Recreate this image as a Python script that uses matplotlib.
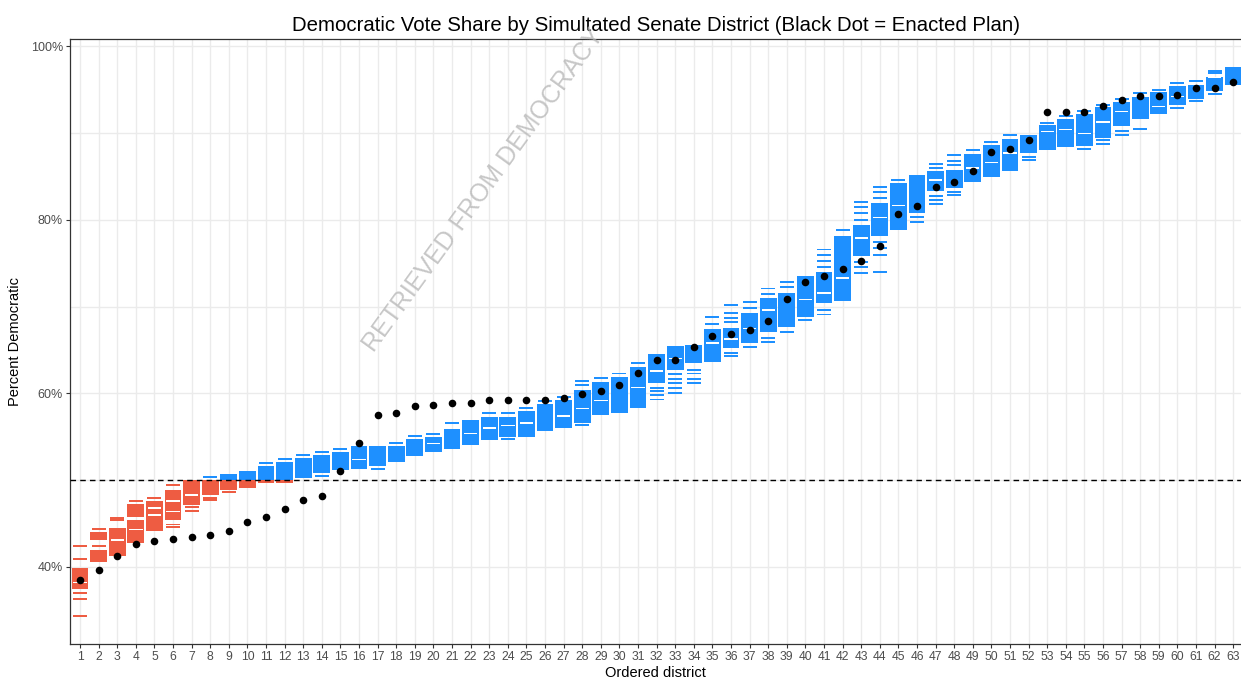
import matplotlib
matplotlib.use("Agg")
import matplotlib.pyplot as plt

plt.rcParams["font.family"] = ["Liberation Sans", "DejaVu Sans"]

# Ordered district index
districts = list(range(1, 64))

# Democratic share (%) of each ordered district under the enacted plan
enacted = [
    38.5, 39.7, 41.3, 42.7, 43.0, 43.2, 43.5, 43.65, 44.15, 45.2,
    45.8, 46.65, 47.7, 48.2, 51.1, 54.3, 57.5, 57.75, 58.56, 58.7,
    58.9, 58.9, 59.2, 59.3, 59.3, 59.3, 59.45, 59.9, 60.25, 61.0,
    62.4, 63.8, 63.9, 65.3, 66.6, 66.9, 67.3, 68.4, 70.9, 72.8,
    73.5, 74.35, 75.3, 77.0, 80.65, 81.6, 83.8, 84.35, 85.65, 87.8,
    88.2, 89.25, 92.4, 92.5, 92.5, 93.1, 93.8, 94.25, 94.25, 94.4,
    95.2, 95.2, 95.95,
]

# Dense ranges (low, high) of the simulated plans for each district
sim_blocks = [
    [(37.5, 39.85)], [(40.6, 42.0), (43.1, 44.0)], [(41.3, 44.5)],
    [(42.8, 45.4), (45.8, 47.3)], [(44.2, 47.6)], [(45.4, 48.9)],
    [(47.1, 50.0)], [(48.3, 50.0)], [(48.9, 50.7)], [(49.1, 51.1)],
    [(49.7, 51.6)], [(49.7, 52.1)], [(50.2, 52.6)], [(50.8, 52.9)],
    [(51.2, 53.3)], [(51.3, 53.9)], [(51.6, 53.9)], [(52.1, 54.0)],
    [(52.8, 54.8)], [(53.2, 55.0)], [(53.6, 55.9)], [(54.1, 56.9)],
    [(54.6, 57.3)], [(55.0, 57.3)], [(55.0, 58.0)], [(55.7, 58.8)],
    [(56.0, 59.2)], [(56.6, 60.4)], [(57.5, 61.3)], [(57.8, 61.9)],
    [(58.3, 63.0)], [(61.2, 64.5)], [(62.7, 65.5)], [(63.5, 65.6)],
    [(63.6, 67.4)], [(65.2, 67.6)], [(65.8, 69.3)], [(67.1, 71.0)],
    [(67.7, 71.6)], [(68.85, 73.5)], [(70.4, 74.0)], [(70.7, 78.1)],
    [(75.8, 79.4)], [(78.2, 81.9)], [(78.9, 84.3)], [(80.8, 85.2)],
    [(83.3, 85.6)], [(83.65, 85.8)], [(84.4, 87.6)], [(85.0, 88.6)],
    [(85.6, 89.3)], [(87.7, 89.8)], [(88.1, 91.0)], [(88.4, 91.6)],
    [(88.5, 92.2)], [(89.5, 93.0)], [(90.8, 93.6)], [(91.6, 94.2)],
    [(92.2, 94.8)], [(93.3, 95.4)], [(94.0, 95.6)], [(94.9, 96.5)],
    [(95.5, 97.6)],
]

# Isolated simulated outcomes outside the dense ranges
sim_strays = [
    [34.35, 36.3, 37.0, 40.9, 42.4], [42.4, 44.4], [45.4, 45.6],
    [47.6], [48.0], [44.6, 44.9, 49.45],
    [46.5, 46.9], [47.7, 47.95, 50.4], [48.6], [],
    [52.0], [52.4], [52.9], [53.3, 50.5],
    [53.6], [], [51.3], [54.3],
    [55.1], [55.3], [56.6], [],
    [57.7], [57.7, 54.8], [58.3], [59.1],
    [59.6], [61.0, 61.4, 56.4], [61.75], [62.3],
    [63.5], [59.3, 59.8, 60.3, 60.6], [60.1, 60.6, 61.2, 61.7, 62.2],
    [61.2, 61.7, 62.3, 62.7],
    [68.0, 68.85], [64.3, 64.7, 68.2, 68.7, 69.3, 70.2], [65.4, 69.9, 70.5],
    [65.9, 66.4, 71.5, 72.1],
    [67.1, 72.3, 72.9], [68.5], [69.1, 69.6, 74.6, 75.3, 76.0, 76.6], [78.85],
    [73.9, 74.6, 75.2, 80.0, 80.8, 81.5, 82.1],
    [74.05, 76.0, 76.8, 77.5, 82.5, 83.2, 83.8], [84.6], [79.8, 80.3],
    [81.8, 82.3, 82.8, 86.0, 86.5], [82.9, 83.2, 86.3, 86.8, 87.5], [88.1], [89.0],
    [89.8], [86.9, 87.3], [91.2], [92.0],
    [92.55, 88.2], [89.2, 93.25, 88.8], [89.8, 90.3, 93.9], [90.5, 94.6],
    [95.0], [92.9, 95.8], [93.7, 96.0], [94.5, 96.9, 97.2],
    [],
]

# Empty bands inside the dense ranges
sim_gaps = [
    [38.2], [], [43.1], [44.3], [46.0, 46.8], [46.4, 47.6], [48.3], [], [], [],
    [], [], [], [], [], [52.4], [], [], [], [54.2],
    [], [55.4], [56.0], [56.3], [56.6], [], [57.4], [58.3], [59.2], [],
    [60.7], [62.6], [64.0], [], [65.8], [66.3], [67.5], [69.6], [], [70.8],
    [71.6], [73.3], [77.9], [80.3], [81.7], [], [84.6], [], [86.0], [86.6],
    [87.7], [], [90.2], [90.4], [90.0], [91.3], [92.5], [], [93.05], [94.2],
    [], [96.4], [],
]

y_ticks = [40, 60, 80, 100]
y_grid = [40, 50, 60, 70, 80, 90, 100]
threshold = 50

RED = "#EE5C42"
BLUE = "#1E90FF"
BAR_W = 0.9
STRAY_W = 0.75
STRAY_H = 0.22
GAP_H = 0.16

fig = plt.figure(figsize=(12.41, 6.81), dpi=100)
ax = fig.add_axes([70 / 1241, 37 / 681, 1171 / 1241, 605 / 681])

ax.set_xlim(0.46, 63.42)
ax.set_ylim(31.12, 100.86)

# background grid
for x in districts:
    ax.axvline(x, color="#EBEBEB", lw=1.0, zorder=0)
for y in y_grid:
    ax.axhline(y, color="#EBEBEB", lw=1.0, zorder=0)


def draw_span(x, lo, hi, width):
    """Draw a vertical span, red below the 50% line and blue above."""
    if hi <= threshold:
        ax.bar(x, hi - lo, bottom=lo, width=width, color=RED, lw=0, zorder=2)
    elif lo >= threshold:
        ax.bar(x, hi - lo, bottom=lo, width=width, color=BLUE, lw=0, zorder=2)
    else:
        ax.bar(x, threshold - lo, bottom=lo, width=width, color=RED, lw=0, zorder=2)
        ax.bar(x, hi - threshold, bottom=threshold, width=width, color=BLUE, lw=0, zorder=2)


for x, blocks, strays, gaps in zip(districts, sim_blocks, sim_strays, sim_gaps):
    for lo, hi in blocks:
        draw_span(x, lo, hi, BAR_W)
    for v in strays:
        draw_span(x, v - STRAY_H / 2, v + STRAY_H / 2, STRAY_W)
    for v in gaps:
        ax.bar(x, GAP_H, bottom=v - GAP_H / 2, width=BAR_W * 0.8,
               color="white", lw=0, zorder=2.5)

ax.axhline(threshold, color="black", lw=1.0, ls=(0, (4, 3)), zorder=3)
ax.scatter(districts, enacted, s=30, color="black", zorder=4, lw=0)

ax.set_xticks(districts)
ax.set_xticklabels([str(d) for d in districts])
ax.set_yticks(y_ticks)
ax.set_yticklabels([f"{t}%" for t in y_ticks])
ax.tick_params(axis="x", labelsize=8.7)
ax.tick_params(axis="y", labelsize=9)
ax.tick_params(axis="both", length=3, width=0.8, color="#333333",
               labelcolor="#4D4D4D", pad=2)

for side in ["left", "top", "bottom"]:
    ax.spines[side].set_color("#333333")
    ax.spines[side].set_linewidth(0.9)
ax.spines["right"].set_visible(False)

ax.set_xlabel("Ordered district", fontsize=10.5, labelpad=2)
ax.set_ylabel("Percent Democratic", fontsize=10.5, labelpad=6)
ax.set_title("Democratic Vote Share by Simultated Senate District (Black Dot = Enacted Plan)",
             fontsize=14.7, pad=6)

fig.text(378 / 1241, 1 - 356 / 681, "RETRIEVED FROM DEMOCRACY",
         rotation=54, rotation_mode="anchor", ha="left", va="bottom",
         fontsize=18, color="#B4B4B4", alpha=0.75, zorder=5)

fig.savefig("out.png", dpi=100)
